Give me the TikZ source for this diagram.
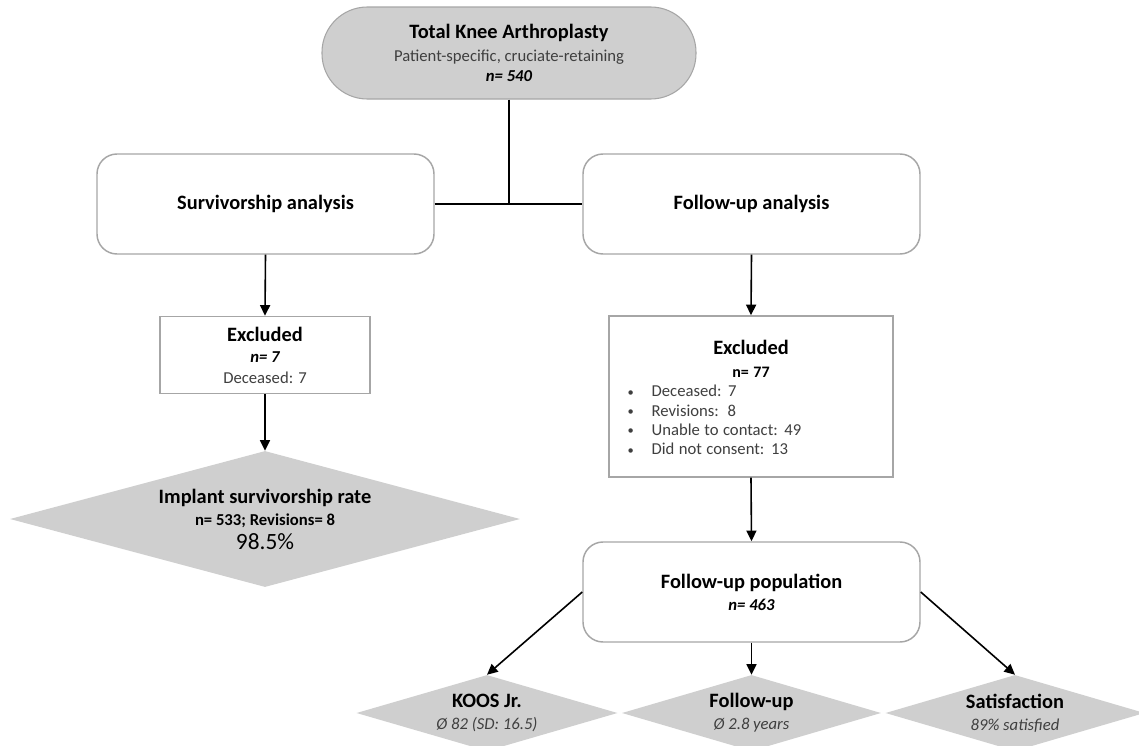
\documentclass[tikz,border=0pt]{standalone}
\usepackage{fontspec}
\setmainfont{Carlito}
\usetikzlibrary{shapes.geometric,arrows.meta}
\definecolor{boxline}{HTML}{A6A6A6}
\definecolor{fillgray}{HTML}{CFCFCF}
\definecolor{txtgray}{HTML}{3F3F3F}
\newcommand{\ttlfont}{\fontsize{15.3}{18}\selectfont\bfseries}
\newcommand{\smfont}{\fontsize{12.5}{14.5}\selectfont}
\newcommand{\bul}{\makebox[18pt][l]{\raisebox{0.6pt}{\scalebox{0.75}{\textbullet}}}}
\begin{document}
\begin{tikzpicture}[x=0.75pt,y=-0.75pt,
  pill/.style={draw=boxline, line width=0.8pt, fill=fillgray, rounded corners=34pt,
    minimum width=280.5pt, minimum height=69pt, align=center, inner sep=0pt},
  rbox/.style={draw=boxline, line width=1.1pt, fill=white, rounded corners=15pt,
    minimum width=252.75pt, minimum height=75pt, align=center},
  sbox/.style={draw=boxline, line width=1.1pt, fill=white, align=center, inner sep=0pt},
  dia/.style={diamond, fill=fillgray, inner sep=0pt, align=center},
  conn/.style={line width=1.2pt, black},
  arr/.style={conn, -{Triangle[length=8pt,width=7.5pt]}},
]
\useasboundingbox (0,0) rectangle (1139,746);
\clip (0,0) rectangle (1139,746);
\fill[white] (0,0) rectangle (1139,746);

\node[pill, font=\fontsize{12.5}{15}\selectfont] (tka) at (509,53)
  {{\ttlfont Total Knee Arthroplasty}\\[2.25pt]
   {\color{txtgray}Patient-specific, cruciate-retaining}\\
   {\bfseries\itshape n= 540}};

\node[rbox, font=\ttlfont] (surv) at (265.5,204) {Survivorship analysis};
\node[rbox, font=\ttlfont] (fua) at (751.5,204) {Follow-up analysis};

\node[sbox, minimum width=157.5pt, minimum height=57.75pt, font=\fontsize{12.5}{15.75}\selectfont] (exl) at (265,355)
  {{\ttlfont Excluded}\\
   {\bfseries\itshape n= 7}\\
   {\color{txtgray}Deceased: 7}};

\node[sbox, minimum width=213pt, minimum height=120.75pt, text width=185pt, align=left, inner xsep=14pt] (exr) at (751,396.5)
  {{\centering\ttlfont\rule{0pt}{17pt}Excluded\par}%
   \vspace{2pt}%
   {\centering\fontsize{12}{15}\selectfont\bfseries n= 77\par}%
   {\smfont\color{txtgray}%
   \bul Deceased: 7\strut\\
   \bul Revisions:\ \ 8\strut\\
   \bul Unable to contact: 49\strut\\
   \bul Did not consent: 13\strut\par}};

\node[dia, aspect=3.75, minimum width=382.5pt, minimum height=102pt, font=\fontsize{12.5}{16.5}\selectfont] (isr) at (265,519)
  {{\ttlfont Implant survivorship rate}\\
   {\bfseries n= 533; Revisions= 8}\\[1.5pt]
   {\fontsize{17.5}{20}\selectfont 98.5\%}};

\node[rbox, font=\fontsize{12.5}{16.5}\selectfont] (pop) at (751.5,592)
  {{\ttlfont Follow-up population}\\
   {\bfseries\itshape n= 463}};

\node[dia, aspect=3.43, minimum width=195.75pt, minimum height=57pt, font=\fontsize{12.5}{16.5}\selectfont] (koos) at (487,713)
  {{\ttlfont KOOS Jr.}\\
   {\itshape\color{txtgray}Ø 82 (SD: 16.5)}};
\node[dia, aspect=3.43, minimum width=194.25pt, minimum height=57pt, font=\fontsize{12.5}{16.5}\selectfont] (fud) at (751.5,713)
  {{\ttlfont Follow-up}\\
   {\itshape\color{txtgray}Ø 2.8 years}};
\node[dia, aspect=3.43, minimum width=194.25pt, minimum height=57pt, font=\fontsize{12.5}{16.5}\selectfont] (sat) at (1015,713)
  {{\ttlfont Satisfaction}\\
   {\itshape\color{txtgray}89\% satisfied}};

\coordinate (jn) at (tka.south |- surv.east);
\draw[conn] (tka.south) -- (jn);
\draw[conn] (surv.east) -- (fua.west);
\draw[arr] (surv.south) -- (exl.north);
\draw[arr] (exl.south) -- (isr.north);
\draw[arr] (fua.south) -- (exr.north);
\draw[arr] (exr.south) -- (pop.north);
\draw[arr] (pop.west) -- (koos.north);
\draw[arr] (pop.south) -- (fud.north);
\draw[arr] (pop.east) -- (sat.north);
\end{tikzpicture}
\end{document}
